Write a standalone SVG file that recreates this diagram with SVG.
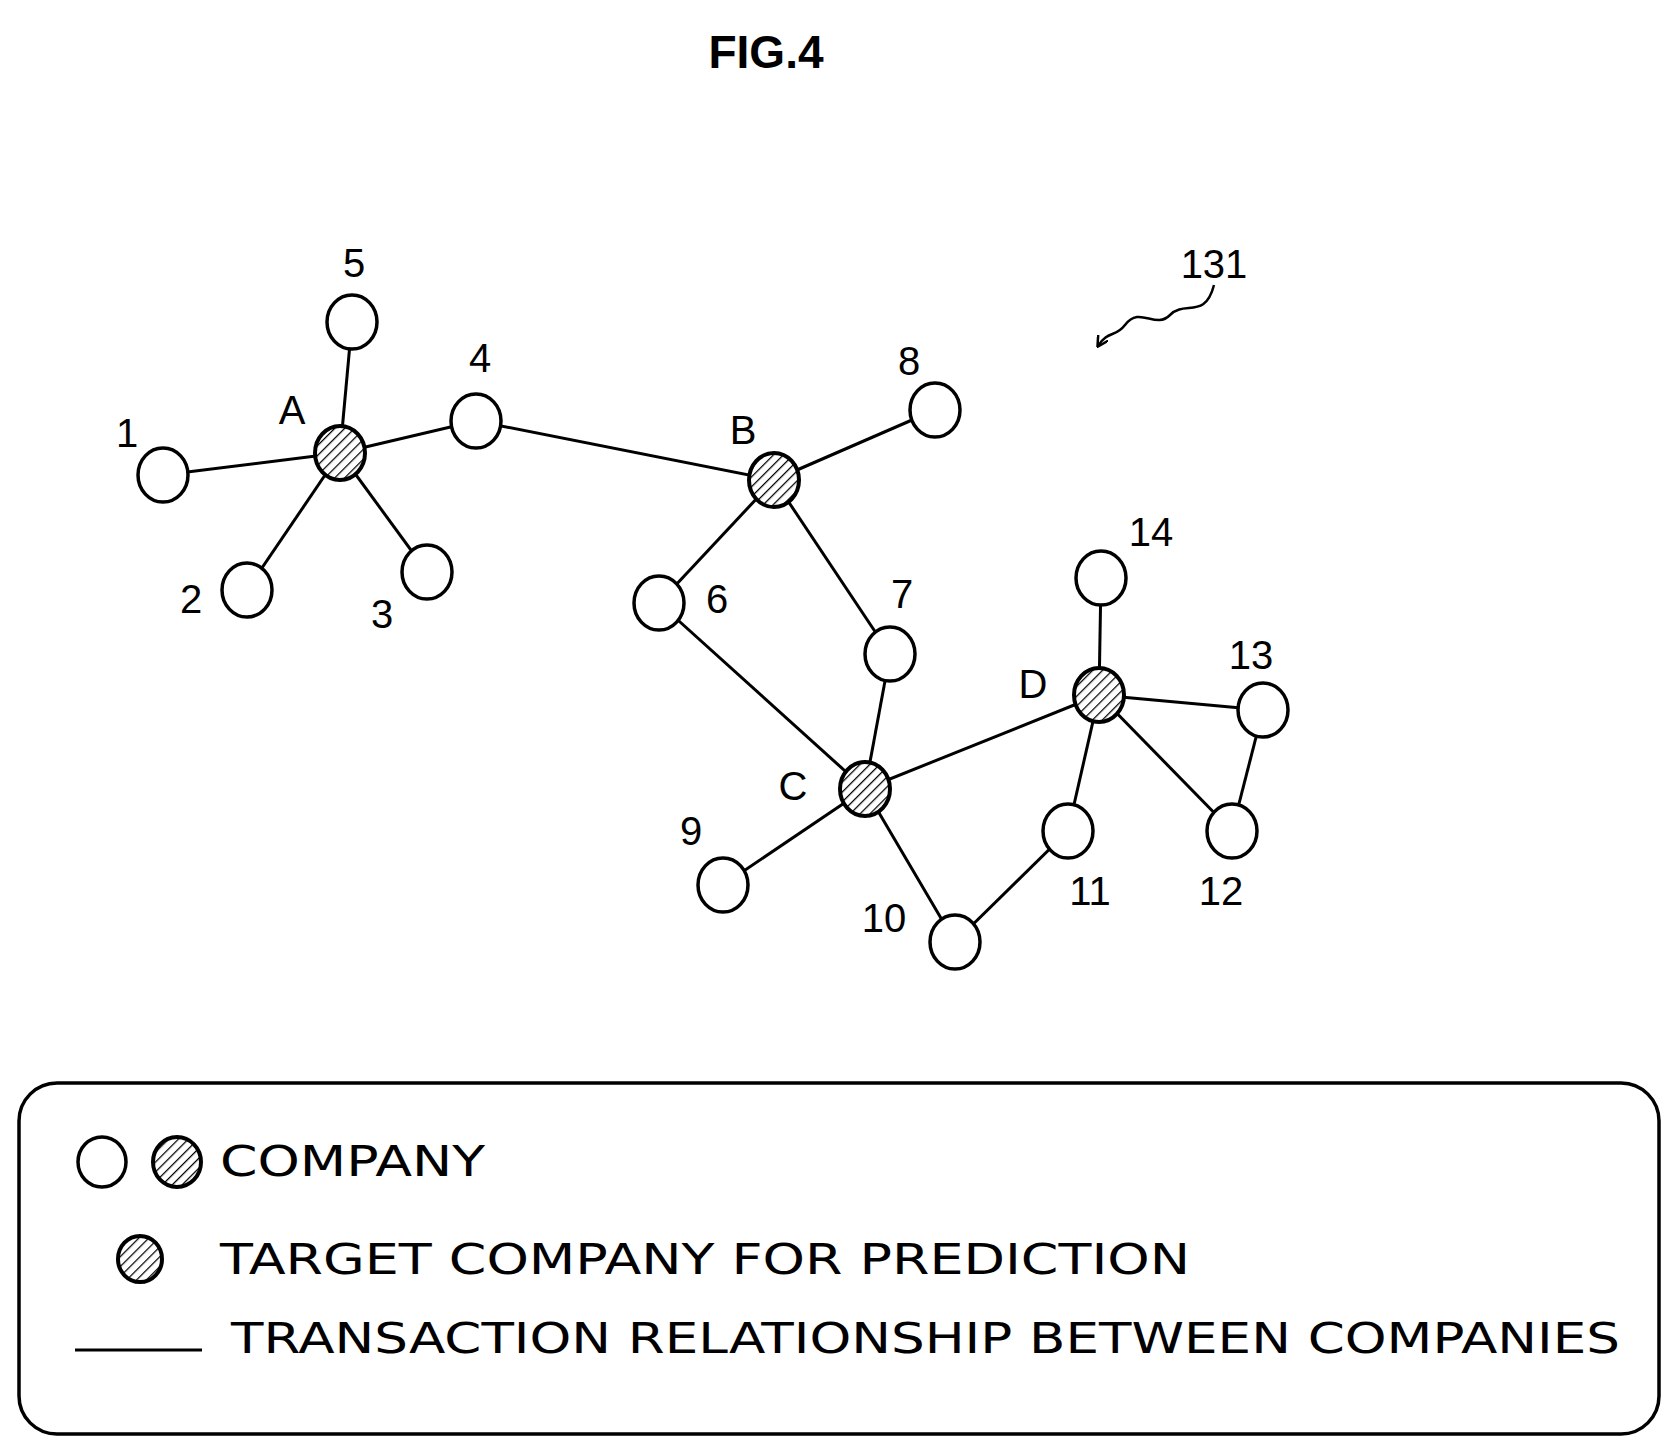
<svg xmlns="http://www.w3.org/2000/svg" width="1676" height="1448" viewBox="0 0 1676 1448">
<style>
.n{fill:#fff;stroke:#000;stroke-width:3.5}
.t{fill:url(#h);stroke:#000;stroke-width:4}
.l{font-family:"Liberation Sans",Arial,sans-serif;font-size:40px;fill:#000;text-anchor:middle}
.g{font-family:"DejaVu Sans","Liberation Sans",sans-serif;font-size:42px;fill:#000}
#edges line{stroke:#000;stroke-width:3}
</style>
<defs>
<pattern id="h" width="7" height="7" patternUnits="userSpaceOnUse" patternTransform="rotate(45)">
<rect width="7" height="7" fill="#fff"/><line x1="0" y1="0" x2="0" y2="7" stroke="#000" stroke-width="2.5"/>
</pattern>
<marker id="ah" markerWidth="12" markerHeight="12" refX="10" refY="6" orient="auto" markerUnits="userSpaceOnUse"><path d="M0,0 L11,6 L0,12" fill="none" stroke="#000" stroke-width="2.5"/></marker>
</defs>
<rect width="1676" height="1448" fill="#fff"/>
<text x="766" y="68" class="l" style="font-size:46px;font-weight:bold">FIG.4</text>
<text x="1214" y="278" class="l">131</text>
<path d="M1214,285 C1205,320 1185,300 1170,315 C1155,330 1140,305 1125,325 C1115,338 1108,330 1098,346" fill="none" stroke="#000" stroke-width="2.5" marker-end="url(#ah)"/>
<g id="edges">
<line x1="340" y1="453" x2="352" y2="322"/><line x1="340" y1="453" x2="476" y2="421"/>
<line x1="340" y1="453" x2="163" y2="475"/><line x1="340" y1="453" x2="247" y2="590"/>
<line x1="340" y1="453" x2="427" y2="572"/><line x1="476" y1="421" x2="774" y2="480"/>
<line x1="774" y1="480" x2="935" y2="410"/><line x1="774" y1="480" x2="659" y2="603"/>
<line x1="774" y1="480" x2="890" y2="654"/><line x1="659" y1="603" x2="865" y2="789"/>
<line x1="890" y1="654" x2="865" y2="789"/><line x1="865" y1="789" x2="1099" y2="695"/>
<line x1="865" y1="789" x2="723" y2="885"/><line x1="865" y1="789" x2="955" y2="942"/>
<line x1="955" y1="942" x2="1068" y2="831"/><line x1="1068" y1="831" x2="1099" y2="695"/>
<line x1="1099" y1="695" x2="1101" y2="578"/><line x1="1099" y1="695" x2="1263" y2="710"/>
<line x1="1099" y1="695" x2="1232" y2="831"/><line x1="1263" y1="710" x2="1232" y2="831"/>
</g>
<g id="n5"><ellipse class="n" cx="352" cy="322" rx="25" ry="27"/><text class="l" x="354" y="277">5</text></g>
<g id="nA"><ellipse class="t" cx="340" cy="453" rx="25" ry="27"/><text class="l" x="292" y="424">A</text></g>
<g id="n4"><ellipse class="n" cx="476" cy="421" rx="25" ry="27"/><text class="l" x="480" y="372">4</text></g>
<g id="n1"><ellipse class="n" cx="163" cy="475" rx="25" ry="27"/><text class="l" x="127" y="447">1</text></g>
<g id="n2"><ellipse class="n" cx="247" cy="590" rx="25" ry="27"/><text class="l" x="191" y="613">2</text></g>
<g id="n3"><ellipse class="n" cx="427" cy="572" rx="25" ry="27"/><text class="l" x="382" y="628">3</text></g>
<g id="nB"><ellipse class="t" cx="774" cy="480" rx="25" ry="27"/><text class="l" x="743" y="444">B</text></g>
<g id="n8"><ellipse class="n" cx="935" cy="410" rx="25" ry="27"/><text class="l" x="909" y="375">8</text></g>
<g id="n6"><ellipse class="n" cx="659" cy="603" rx="25" ry="27"/><text class="l" x="717" y="613">6</text></g>
<g id="n7"><ellipse class="n" cx="890" cy="654" rx="25" ry="27"/><text class="l" x="902" y="608">7</text></g>
<g id="n14"><ellipse class="n" cx="1101" cy="578" rx="25" ry="27"/><text class="l" x="1151" y="546">14</text></g>
<g id="nD"><ellipse class="t" cx="1099" cy="695" rx="25" ry="27"/><text class="l" x="1033" y="698">D</text></g>
<g id="n13"><ellipse class="n" cx="1263" cy="710" rx="25" ry="27"/><text class="l" x="1251" y="669">13</text></g>
<g id="nC"><ellipse class="t" cx="865" cy="789" rx="25" ry="27"/><text class="l" x="793" y="800">C</text></g>
<g id="n11"><ellipse class="n" cx="1068" cy="831" rx="25" ry="27"/><text class="l" x="1090" y="905">11</text></g>
<g id="n12"><ellipse class="n" cx="1232" cy="831" rx="25" ry="27"/><text class="l" x="1221" y="905">12</text></g>
<g id="n9"><ellipse class="n" cx="723" cy="885" rx="25" ry="27"/><text class="l" x="691" y="845">9</text></g>
<g id="n10"><ellipse class="n" cx="955" cy="942" rx="25" ry="27"/><text class="l" x="884" y="932">10</text></g>
<g id="legend">
<rect x="19" y="1083" width="1640" height="351" rx="38" fill="none" stroke="#000" stroke-width="3.5"/>
<ellipse class="n" cx="102" cy="1162" rx="24" ry="25"/>
<ellipse class="t" cx="177" cy="1162" rx="24" ry="25"/>
<text class="g" x="220" y="1176" textLength="265" lengthAdjust="spacingAndGlyphs">COMPANY</text>
<ellipse class="t" cx="140" cy="1259" rx="22" ry="23"/>
<text class="g" x="220" y="1274" textLength="970" lengthAdjust="spacingAndGlyphs">TARGET COMPANY FOR PREDICTION</text>
<line x1="75" y1="1350" x2="202" y2="1350" stroke="#000" stroke-width="3"/>
<text class="g" x="231" y="1353" textLength="1389" lengthAdjust="spacingAndGlyphs">TRANSACTION RELATIONSHIP BETWEEN COMPANIES</text>
</g>
</svg>
